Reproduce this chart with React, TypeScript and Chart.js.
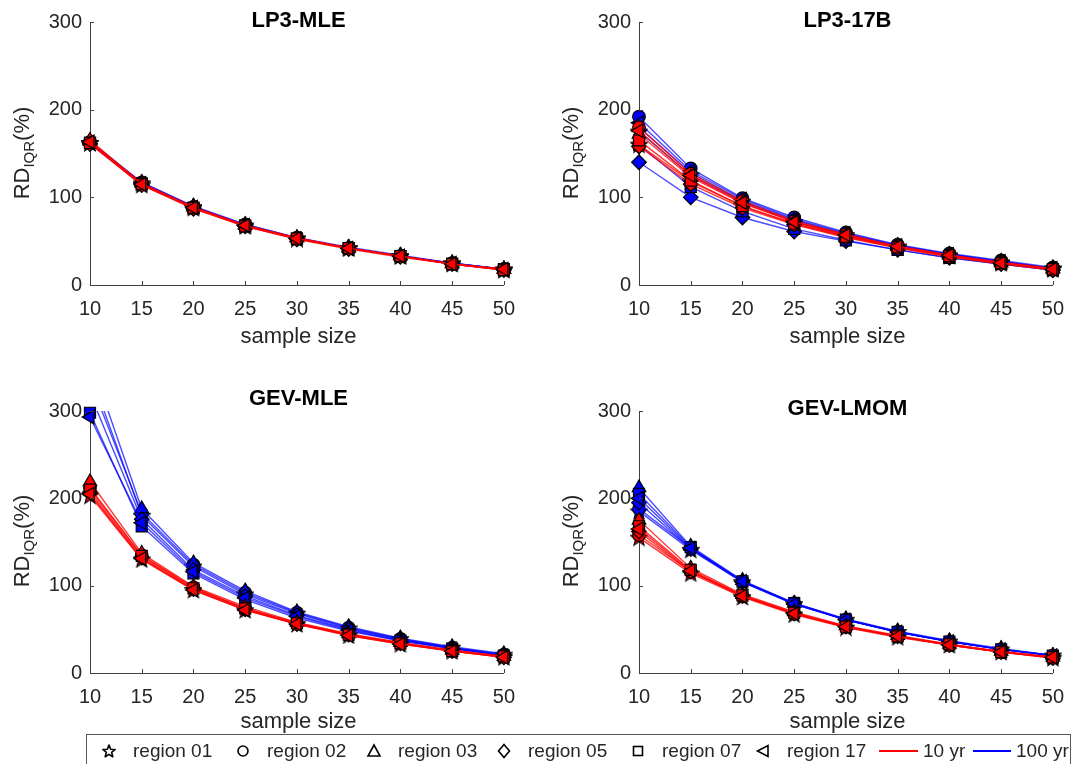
import React, { useEffect, useRef } from 'react';
import { Chart, registerables } from 'chart.js';

Chart.register(...registerables);

// ---------------- data ----------------
const sampleSizes = [10, 15, 20, 25, 30, 35, 40, 45, 50];
const yTickValues = [0, 100, 200, 300];
const regionNames = ['region 01', 'region 02', 'region 03', 'region 05', 'region 07', 'region 17'];
const periodNames = ['10 yr', '100 yr'];
const panelTitles = ['LP3-MLE', 'LP3-17B', 'GEV-MLE', 'GEV-LMOM'];

// each list: one row per region (01, 02, 03, 05, 07, 17), one value per sample size
const lp3Mle10yr = [
  [162, 114, 88, 67, 53, 42, 33, 24, 17],
  [163, 115, 88, 68, 53, 42, 33, 24, 18],
  [165, 116, 89, 68, 54, 42, 33, 24, 18],
  [161, 114, 87, 67, 52, 41, 32, 24, 17],
  [162, 115, 88, 67, 53, 42, 33, 24, 17],
  [163, 115, 88, 68, 53, 42, 33, 24, 18],
];
const lp3Mle100yr = [
  [162, 116, 89, 68, 53, 42, 33, 25, 18],
  [163, 117, 89, 69, 54, 42, 33, 25, 18],
  [164, 117, 90, 69, 54, 43, 34, 25, 18],
  [161, 115, 88, 68, 53, 42, 33, 24, 18],
  [162, 116, 88, 68, 53, 42, 33, 24, 18],
  [163, 116, 89, 68, 53, 42, 33, 25, 18],
];
const lp317b10yr = [
  [160, 118, 90, 70, 55, 43, 33, 25, 18],
  [180, 127, 96, 73, 58, 44, 34, 26, 19],
  [172, 123, 93, 72, 56, 44, 34, 25, 18],
  [158, 115, 88, 69, 54, 42, 32, 24, 17],
  [165, 119, 90, 70, 55, 43, 33, 25, 18],
  [176, 125, 94, 72, 57, 44, 34, 25, 18],
];
const lp317b100yr = [
  [175, 125, 95, 72, 57, 44, 34, 26, 19],
  [192, 133, 99, 77, 60, 46, 36, 28, 20],
  [180, 128, 96, 74, 58, 45, 35, 27, 19],
  [140, 100, 77, 61, 50, 40, 31, 24, 17],
  [160, 112, 84, 64, 51, 40, 31, 24, 17],
  [185, 130, 98, 75, 59, 45, 35, 27, 19],
];
const gevMle10yr = [
  [203, 130, 95, 72, 56, 43, 33, 25, 18],
  [212, 135, 98, 74, 57, 44, 34, 26, 19],
  [219, 137, 99, 76, 58, 45, 35, 26, 19],
  [207, 132, 96, 73, 56, 44, 34, 25, 18],
  [210, 134, 97, 74, 57, 44, 34, 25, 19],
  [205, 131, 95, 72, 56, 43, 33, 25, 18],
];
const gevMle100yr = [
  [345, 180, 122, 90, 68, 51, 39, 29, 21],
  [335, 183, 124, 92, 69, 52, 39, 29, 21],
  [360, 188, 126, 94, 70, 53, 40, 30, 22],
  [320, 176, 118, 88, 66, 50, 38, 28, 21],
  [298, 168, 114, 84, 63, 48, 37, 28, 20],
  [293, 172, 116, 86, 65, 49, 37, 28, 20],
];
const gevLmom10yr = [
  [155, 114, 87, 67, 52, 41, 32, 24, 17],
  [158, 116, 88, 68, 53, 42, 32, 24, 18],
  [175, 120, 90, 70, 54, 43, 33, 25, 18],
  [162, 116, 88, 68, 53, 42, 32, 24, 17],
  [168, 118, 89, 69, 53, 42, 33, 24, 18],
  [165, 117, 88, 68, 53, 42, 32, 24, 18],
];
const gevLmom100yr = [
  [185, 141, 104, 79, 61, 47, 36, 27, 20],
  [188, 143, 105, 80, 61, 47, 36, 27, 20],
  [212, 145, 106, 80, 62, 48, 37, 28, 20],
  [195, 142, 104, 79, 61, 47, 36, 27, 20],
  [205, 144, 105, 80, 61, 47, 36, 27, 20],
  [200, 143, 105, 79, 61, 47, 36, 27, 20],
];

// ---------------- styling ----------------
const FONT = '"Liberation Sans", Arial, Helvetica, sans-serif';
const TEXT = '#262626';
const AXIS = '#404040';
const RED = 'rgb(255,0,0)';
const BLUE = 'rgb(0,0,255)';
const RED_LINE = 'rgba(255,0,0,0.8)';
const BLUE_LINE = 'rgba(0,0,255,0.7)';

const AXIS_W = 60; // width reserved for y tick labels
const AXIS_H = 45; // height reserved for x tick labels
const PAD_T = 14;
const PAD_R = 20;

type Area = { left: number; top: number; right: number; bottom: number };

const panelAreas: Area[] = [
  { left: 90, top: 16, right: 507, bottom: 285 },
  { left: 639, top: 16, right: 1056, bottom: 285 },
  { left: 90, top: 405, right: 507, bottom: 673 },
  { left: 639, top: 405, right: 1056, bottom: 673 },
];
const titleY = [20, 20, 398, 408];
const xLabelOffset = [51, 51, 48, 48];

const markerStyles: { style: string; radius: number; rotation: number }[] = [
  { style: 'star', radius: 7, rotation: 0 },
  { style: 'circle', radius: 6.3, rotation: 0 },
  { style: 'triangle', radius: 7.8, rotation: 0 },
  { style: 'rectRot', radius: 7.3, rotation: 0 },
  { style: 'rect', radius: 7.8, rotation: 0 },
  { style: 'triangle', radius: 7.8, rotation: -90 },
];

function makeStar(fill: string): HTMLCanvasElement {
  const c = document.createElement('canvas');
  c.width = 18;
  c.height = 18;
  const ctx = c.getContext('2d')!;
  const cx = 9, cy = 9.5;
  const ro = 8.5, ri = 3.6;
  ctx.beginPath();
  for (let i = 0; i < 10; i++) {
    const r = i % 2 === 0 ? ro : ri;
    const a = -Math.PI / 2 + (i * Math.PI) / 5;
    const px = cx + r * Math.cos(a);
    const py = cy + r * Math.sin(a);
    if (i === 0) ctx.moveTo(px, py);
    else ctx.lineTo(px, py);
  }
  ctx.closePath();
  ctx.fillStyle = fill;
  ctx.fill();
  ctx.lineWidth = 1.2;
  ctx.strokeStyle = '#000';
  ctx.stroke();
  return c;
}

const inwardTicks = {
  id: 'inwardTicks',
  afterDraw(chart: any) {
    const { ctx, chartArea, scales } = chart;
    ctx.save();
    ctx.strokeStyle = AXIS;
    ctx.lineWidth = 1;
    ctx.beginPath();
    for (const v of sampleSizes) {
      const px = Math.round(scales.x.getPixelForValue(v)) + 0.5;
      ctx.moveTo(px, chartArea.bottom);
      ctx.lineTo(px, chartArea.bottom - 4);
    }
    for (const v of yTickValues) {
      const py = Math.round(scales.y.getPixelForValue(v)) + 0.5;
      ctx.moveTo(chartArea.left, py);
      ctx.lineTo(chartArea.left + 4, py);
    }
    ctx.stroke();
    ctx.restore();
  },
};

function Panel({ idx, red, blue }: { idx: number; red: number[][]; blue: number[][] }) {
  const ref = useRef<HTMLCanvasElement>(null);
  const area = panelAreas[idx];
  const cLeft = area.left - AXIS_W;
  const cTop = area.top - PAD_T;
  const cW = area.right - area.left + AXIS_W + PAD_R;
  const cH = area.bottom - area.top + PAD_T + AXIS_H;

  useEffect(() => {
    if (!ref.current) return;
    const stars = { red: makeStar(RED), blue: makeStar(BLUE) };
    const ordered: any[] = []; // bottom-most first
    const addGroup = (rows: number[][], lineColor: string, fill: string, starImg: HTMLCanvasElement, period: string) => {
      rows.forEach((row, r) => {
        const pts = row.map((y, i) => ({ x: sampleSizes[i], y }));
        const m = markerStyles[r];
        ordered.push({
          label: `${regionNames[r]} ${period} line`,
          data: pts,
          borderColor: lineColor,
          borderWidth: 1.4,
          pointRadius: 0,
          fill: false,
          tension: 0,
          clip: 0,
        });
        ordered.push({
          label: `${regionNames[r]} ${period}`,
          data: pts,
          showLine: false,
          pointStyle: m.style === 'star' ? starImg : m.style,
          pointRadius: m.radius,
          pointRotation: m.rotation,
          pointBackgroundColor: fill,
          pointBorderColor: '#000',
          pointBorderWidth: 1.2,
          clip: { left: 12, right: 12, top: 8, bottom: 12 },
        });
      });
    };
    addGroup(blue, BLUE_LINE, BLUE, stars.blue, periodNames[1]);
    addGroup(red, RED_LINE, RED, stars.red, periodNames[0]);
    const datasets = ordered.reverse();

    const chart = new Chart(ref.current, {
      type: 'line',
      data: { datasets },
      options: {
        responsive: false,
        animation: false,
        devicePixelRatio: 1,
        layout: { padding: { top: PAD_T, right: PAD_R, left: 0, bottom: 0 } },
        plugins: { legend: { display: false }, tooltip: { enabled: false }, title: { display: false } },
        events: [],
        scales: {
          x: {
            type: 'linear',
            min: 10,
            max: 50,
            afterBuildTicks: (s: any) => {
              s.ticks = sampleSizes.map((v) => ({ value: v }));
            },
            afterFit: (s: any) => {
              s.height = AXIS_H;
            },
            grid: { display: true, drawOnChartArea: false, drawTicks: false },
            border: { display: true, color: AXIS, width: 1 },
            ticks: { padding: 12, color: TEXT, font: { family: FONT, size: 20 }, maxRotation: 0, autoSkip: false },
          },
          y: {
            type: 'linear',
            min: 0,
            max: 300,
            afterBuildTicks: (s: any) => {
              s.ticks = yTickValues.map((v) => ({ value: v }));
            },
            afterFit: (s: any) => {
              s.width = AXIS_W;
            },
            grid: { display: true, drawOnChartArea: false, drawTicks: false },
            border: { display: true, color: AXIS, width: 1 },
            ticks: { padding: 8, color: TEXT, font: { family: FONT, size: 20 } },
          },
        },
      },
      plugins: [inwardTicks],
    } as any);
    return () => chart.destroy();
  }, []);

  const cx = (area.left + area.right) / 2;
  const cyMid = (area.top + area.bottom) / 2 + 2;
  const ylabX = area.left - 67;
  return (
    <>
      <canvas
        ref={ref}
        width={cW}
        height={cH}
        style={{ position: 'absolute', left: cLeft, top: cTop, width: cW, height: cH }}
      />
      <div
        style={{
          position: 'absolute',
          left: cx - 150,
          width: 300,
          top: titleY[idx] - 13,
          textAlign: 'center',
          font: `bold 22px ${FONT}`,
          color: '#000',
          lineHeight: '26px',
          pointerEvents: 'none',
        }}
      >
        {panelTitles[idx]}
      </div>
      <div
        style={{
          position: 'absolute',
          left: ylabX - 100,
          top: cyMid - 14,
          width: 200,
          height: 28,
          lineHeight: '28px',
          textAlign: 'center',
          transform: 'rotate(-90deg)',
          font: `22px ${FONT}`,
          color: TEXT,
          whiteSpace: 'nowrap',
        }}
      >
        RD<sub style={{ fontSize: 15, verticalAlign: '-5px', lineHeight: 0 }}>IQR</sub>(%)
      </div>
      <div
        style={{
          position: 'absolute',
          left: cx - 100,
          width: 200,
          top: area.bottom + xLabelOffset[idx] - 13,
          lineHeight: '26px',
          textAlign: 'center',
          font: `22px ${FONT}`,
          color: TEXT,
        }}
      >
        sample size
      </div>
    </>
  );
}

function Sym({ kind }: { kind: number }) {
  const s = 'black';
  const sw = 1.6;
  let el: any = null;
  if (kind === 0) {
    const pts: string[] = [];
    for (let i = 0; i < 10; i++) {
      const r = i % 2 === 0 ? 6.5 : 2.8;
      const a = -Math.PI / 2 + (i * Math.PI) / 5;
      pts.push(`${(8 + r * Math.cos(a)).toFixed(2)},${(8.5 + r * Math.sin(a)).toFixed(2)}`);
    }
    el = <polygon points={pts.join(' ')} fill="none" stroke={s} strokeWidth={sw} strokeLinejoin="round" />;
  } else if (kind === 1) el = <circle cx={8} cy={8} r={5} fill="none" stroke={s} strokeWidth={sw} />;
  else if (kind === 2) el = <polygon points="8,2 14,13 2,13" fill="none" stroke={s} strokeWidth={sw} />;
  else if (kind === 3) el = <polygon points="8,1.5 13.5,8 8,14.5 2.5,8" fill="none" stroke={s} strokeWidth={sw} />;
  else if (kind === 4) el = <rect x={3.5} y={3.5} width={9} height={9} fill="none" stroke={s} strokeWidth={sw} />;
  else el = <polygon points="2.5,8 13,2.5 13,13.5" fill="none" stroke={s} strokeWidth={sw} />;
  return (
    <svg width={16} height={16} style={{ display: 'block' }}>
      {el}
    </svg>
  );
}

const legendSymX = [108, 242, 373, 503, 637, 762];

function Legend() {
  const items: any[] = [];
  regionNames.forEach((name, i) => {
    items.push(
      <div key={'s' + i} style={{ position: 'absolute', left: legendSymX[i] - 8 - 86, top: 8 }}>
        <Sym kind={i} />
      </div>
    );
    items.push(
      <div
        key={'t' + i}
        style={{ position: 'absolute', left: legendSymX[i] + 24 - 86, top: 3, font: `19px ${FONT}`, color: TEXT, lineHeight: '26px', whiteSpace: 'nowrap' }}
      >
        {name}
      </div>
    );
  });
  const lineItems = [
    { x1: 878, x2: 917, tx: 922, color: RED, label: periodNames[0] },
    { x1: 972, x2: 1010, tx: 1015, color: BLUE, label: periodNames[1] },
  ];
  lineItems.forEach((l, i) => {
    items.push(
      <div key={'l' + i} style={{ position: 'absolute', left: l.x1 - 86, top: 15, width: l.x2 - l.x1, height: 2, background: l.color }} />
    );
    items.push(
      <div
        key={'lt' + i}
        style={{ position: 'absolute', left: l.tx - 86, top: 3, font: `19px ${FONT}`, color: TEXT, lineHeight: '26px', whiteSpace: 'nowrap' }}
      >
        {l.label}
      </div>
    );
  });
  return (
    <div
      style={{
        position: 'absolute',
        left: 86,
        top: 734,
        width: 1071 - 86,
        height: 40,
        border: '1px solid #555',
        background: '#fff',
        boxSizing: 'border-box',
      }}
    >
      {items}
    </div>
  );
}

export default function App() {
  return (
    <div
      style={{
        position: 'absolute',
        left: 0,
        top: 0,
        width: 1077,
        height: 764,
        background: '#fff',
        overflow: 'hidden',
        fontFamily: FONT,
      }}
    >
      <Panel idx={0} red={lp3Mle10yr} blue={lp3Mle100yr} />
      <Panel idx={1} red={lp317b10yr} blue={lp317b100yr} />
      <Panel idx={2} red={gevMle10yr} blue={gevMle100yr} />
      <Panel idx={3} red={gevLmom10yr} blue={gevLmom100yr} />
      <Legend />
    </div>
  );
}
